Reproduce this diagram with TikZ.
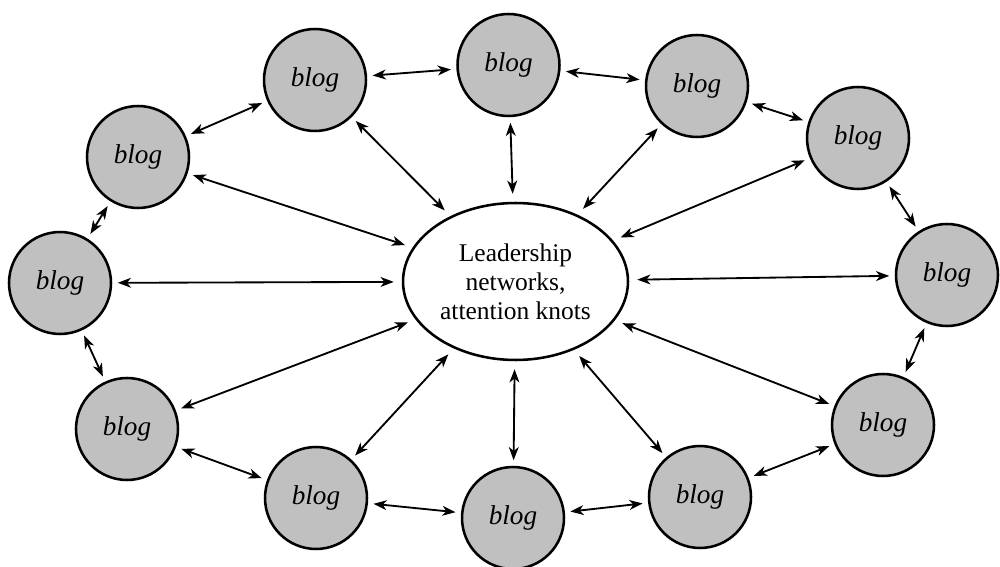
\documentclass[tikz,border=0pt]{standalone}
\usepackage{fontspec}
\setmainfont{Liberation Serif}
\usetikzlibrary{arrows.meta,shapes.geometric}
\definecolor{blogfill}{RGB}{192,192,192}
\tikzset{
  blognode/.style={circle, draw=black, line width=1.45pt, fill=blogfill,
    minimum size=2.04cm, inner sep=0pt,
    font=\fontsize{15.5}{18}\selectfont\itshape},
  hubnode/.style={ellipse, draw=black, line width=1.45pt, fill=white,
    minimum width=4.5cm, minimum height=3.14cm, inner sep=0pt,
    align=center, font=\fontsize{14.5}{16.6}\selectfont},
  link/.style={line width=1.05pt,
    {Stealth[length=7.5pt,width=5.6pt,inset=2.2pt]}-{Stealth[length=7.5pt,width=5.6pt,inset=2.2pt]},
    shorten <=0.11cm, shorten >=0.11cm},
  spoke/.style={link, shorten <=0.16cm}
}
\begin{document}
\begin{tikzpicture}[x=0.02cm,y=-0.02cm]
\useasboundingbox (0,0) rectangle (1000,567);
\node[hubnode] (c) at (515.5,281.5) {Leadership\\networks,\\attention knots};
\node[blognode] (b1)  at (315,80)  {blog};
\node[blognode] (b2)  at (508.5,65) {blog};
\node[blognode] (b3)  at (697,86)  {blog};
\node[blognode] (b4)  at (858,138) {blog};
\node[blognode] (b5)  at (947,275) {blog};
\node[blognode] (b6)  at (883,425) {blog};
\node[blognode] (b7)  at (700,497) {blog};
\node[blognode] (b8)  at (513,518) {blog};
\node[blognode] (b9)  at (316,498) {blog};
\node[blognode] (b10) at (127,429) {blog};
\node[blognode] (b11) at (60,283)  {blog};
\node[blognode] (b12) at (138,157) {blog};
% ring
\draw[link] (b1) -- (b2);
\draw[link] (b2) -- (b3);
\draw[link] (b3) -- (b4);
\draw[link] (b4) -- (b5);
\draw[link] (b5) -- (b6);
\draw[link] (b6) -- (b7);
\draw[link] (b7) -- (b8);
\draw[link] (b8) -- (b9);
\draw[link] (b9) -- (b10);
\draw[link] (b10) -- (b11);
\draw[link] (b11) -- (b12);
\draw[link] (b12) -- (b1);
% spokes
\foreach \i in {1,...,12} {
  \draw[spoke] (c) -- (b\i);
}
\end{tikzpicture}
\end{document}
